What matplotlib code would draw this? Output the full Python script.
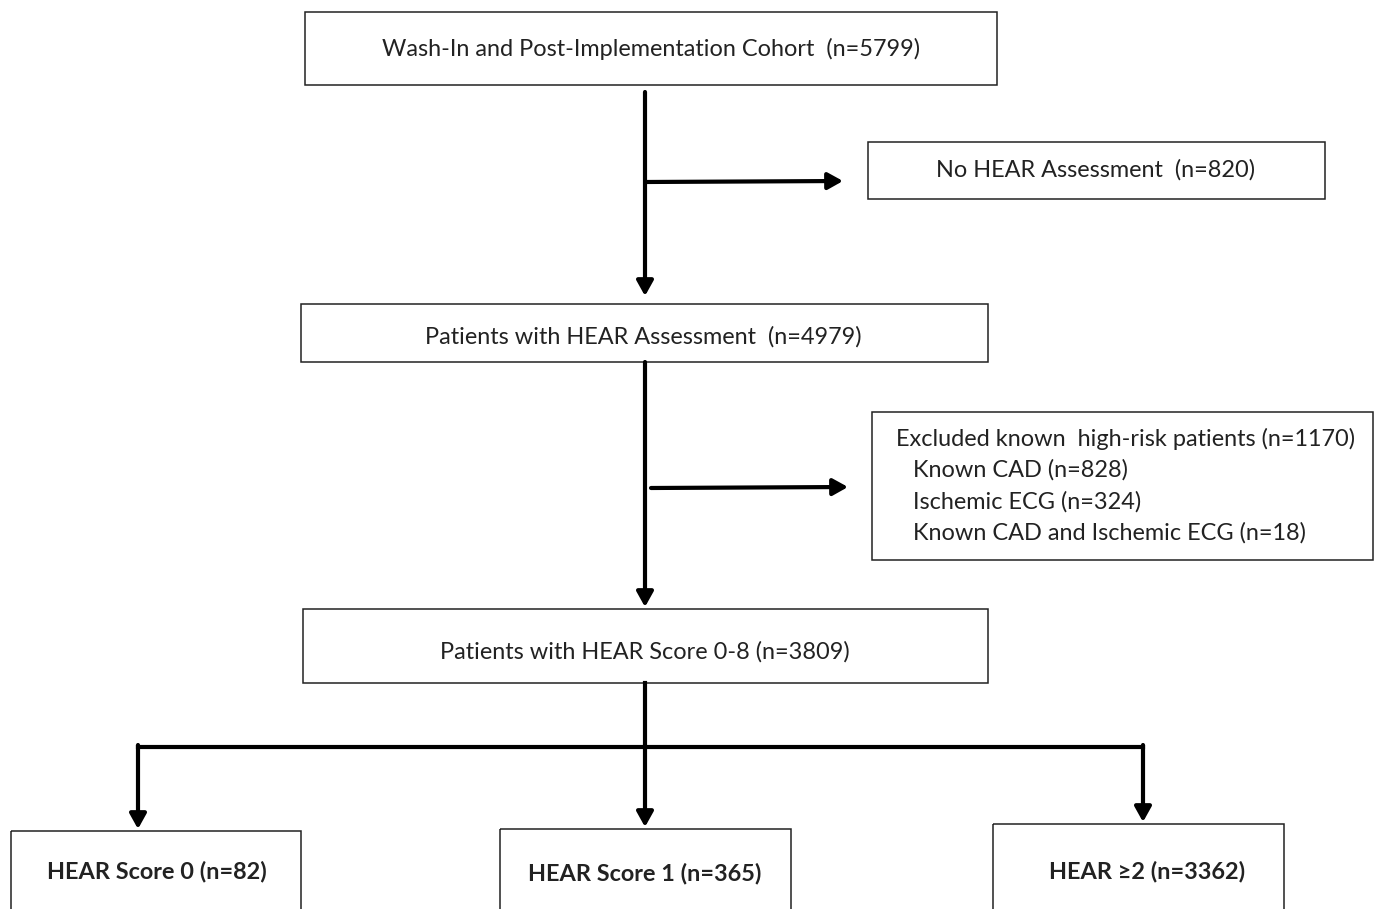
import matplotlib.pyplot as plt
from matplotlib.patches import Rectangle

plt.rcParams['font.family'] = ['Lato', 'DejaVu Sans']

# flow counts
cohort_n = 5799
no_hear_n = 820
hear_n = 4979
excluded_n = 1170
excluded_parts = ['Known CAD', 'Ischemic ECG', 'Known CAD and Ischemic ECG']
excluded_part_n = [828, 324, 18]
score_n = 3809
group_labels = ['HEAR Score 0', 'HEAR Score 1', 'HEAR \u22652']
group_n = [82, 365, 3362]

W, H = 1378, 909
fig = plt.figure(figsize=(W / 100, H / 100), dpi=100)
ax = fig.add_axes([0, 0, 1, 1])
ax.set_xlim(0, W)
ax.set_ylim(H, 0)
ax.axis('off')

def box(x0, y0, x1, y1):
    ax.add_patch(Rectangle((x0, y0), x1 - x0, y1 - y0, fill=False,
                           edgecolor='#222222', linewidth=1.1))

def arrow(x0, y0, x1, y1):
    ax.annotate('', xy=(x1, y1), xytext=(x0, y0),
                arrowprops=dict(arrowstyle='-|>,head_length=0.9,head_width=0.5',
                                color='black', lw=3, shrinkA=0, shrinkB=0))

def line(xs, ys):
    ax.plot(xs, ys, color='black', lw=3, solid_capstyle='projecting',
            solid_joinstyle='miter')

fs = 16.9

# main boxes
box(305, 12, 997, 85)
ax.text(651, 49, f'Wash-In and Post-Implementation Cohort  (n={cohort_n})',
        ha='center', va='center', fontsize=fs, color='#222222')

box(868, 142, 1325, 199)
ax.text(1095, 170, f'No HEAR Assessment  (n={no_hear_n})',
        ha='center', va='center', fontsize=fs, color='#222222')

box(301, 304, 988, 362)
ax.text(643, 337, f'Patients with HEAR Assessment  (n={hear_n})',
        ha='center', va='center', fontsize=fs, color='#222222')

box(872, 412, 1373, 560)
ax.text(896, 439, f'Excluded known  high-risk patients (n={excluded_n})',
        ha='left', va='center', fontsize=fs, color='#222222')
for i, (lab, n) in enumerate(zip(excluded_parts, excluded_part_n)):
    ax.text(913, 470 + i * 31.5, f'{lab} (n={n})',
            ha='left', va='center', fontsize=fs, color='#222222')

box(303, 609, 988, 683)
ax.text(645, 652, f'Patients with HEAR Score 0-8 (n={score_n})',
        ha='center', va='center', fontsize=fs, color='#222222')

# arrows between main boxes
arrow(645, 92, 645, 296)
arrow(645, 182, 843, 181)
arrow(645, 362, 645, 607)
arrow(651, 488, 848, 487)
line([645, 645], [683, 747])

# split to the three groups
gx = [138, 645, 1143]
gbox = [(11, 831, 301), (500, 829, 791), (993, 824, 1284)]
gtext_x = [157, 645, 1147]
gtext_y = [872, 874, 871]
line([gx[0], gx[2]], [747, 747])
for i in range(3):
    x0, y0, x1 = gbox[i]
    arrow(gx[i], 745, gx[i], y0 - 2)
    box(x0, y0, x1, H + 5)
    ax.text(gtext_x[i], gtext_y[i],
            f'{group_labels[i]} (n={group_n[i]})',
            ha='center', va='center', fontsize=fs, fontweight='bold',
            color='#222222')

fig.savefig('out.png', dpi=100)
